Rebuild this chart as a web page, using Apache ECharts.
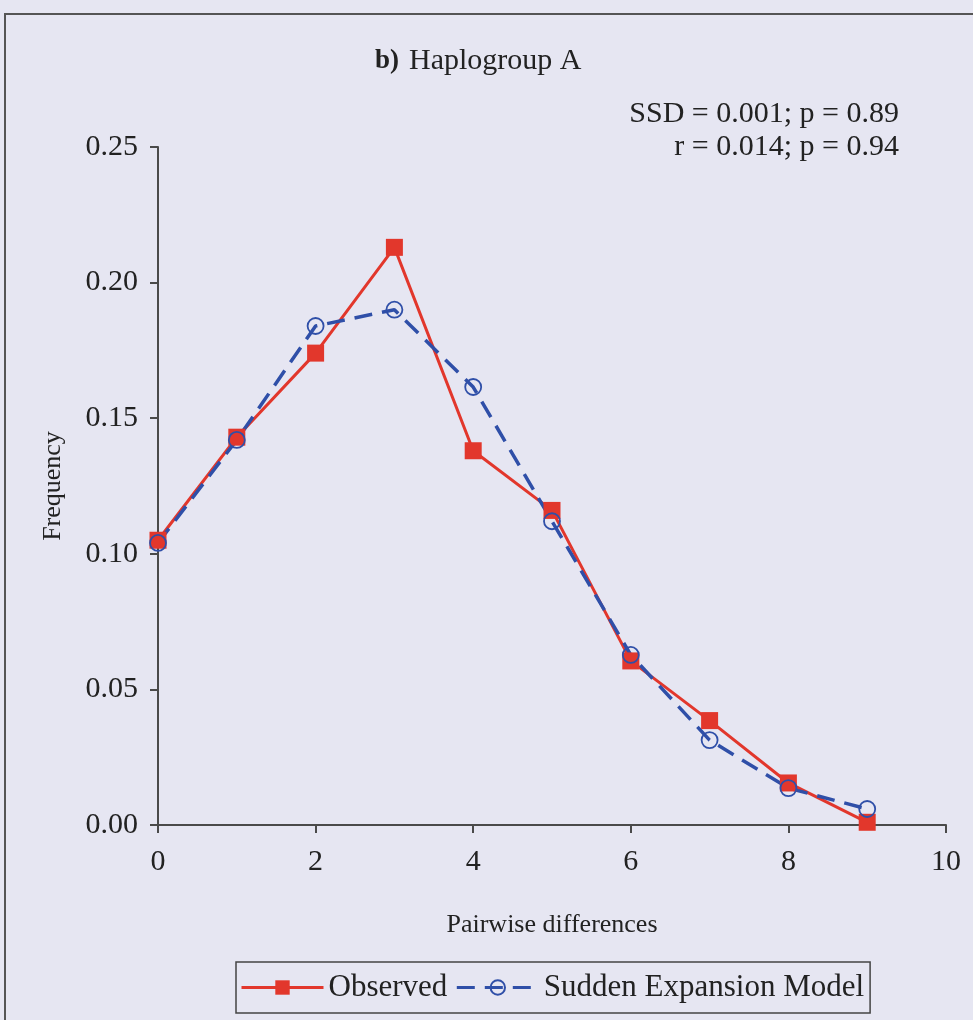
<!DOCTYPE html>
<html>
<head>
<meta charset="utf-8">
<script src="https://cdn.jsdelivr.net/npm/echarts@6/dist/echarts.min.js"></script>
<style>
  html, body { margin: 0; padding: 0; background: #e6e6f2; }
  #chart { width: 973px; height: 1020px; }
</style>
</head>
<body>
<div id="chart"></div>
<script>
// pairwise differences (x) and frequencies
const diffs = [0, 1, 2, 3, 4, 5, 6, 7, 8, 9];
const observed = [0.105, 0.143, 0.174, 0.213, 0.138, 0.116, 0.0605, 0.0385, 0.0155, 0.001];
const expansion = [0.104, 0.142, 0.184, 0.190, 0.1615, 0.112, 0.0627, 0.0313, 0.0136, 0.0059];
const yTicks = [0, 0.05, 0.10, 0.15, 0.20, 0.25];
const xTicks = [0, 2, 4, 6, 8, 10];
const statLines = ['SSD = 0.001; p = 0.89', 'r = 0.014; p = 0.94'];

const serif = '"Liberation Serif", "DejaVu Serif", serif';
const axisGrey = '#4a4a4a';
const red = '#e2372c';
const blue = '#2f4fa8';

let myChart = echarts.init(document.getElementById('chart'));

myChart.setOption({
  backgroundColor: '#e6e6f2',
  animation: false,
  title: {
    text: '{b|b)}  {n|Haplogroup A}',
    left: 370,
    top: 41,
    textStyle: {
      rich: {
        b: { fontFamily: serif, fontSize: 27, fontWeight: 'bold', color: '#222' },
        n: { fontFamily: serif, fontSize: 30, fontWeight: 'normal', color: '#222' }
      }
    }
  },
  graphic: [
    {
      // frame around the figure (left and top edges visible)
      type: 'rect',
      shape: { x: 5, y: 14, width: 1100, height: 1100 },
      style: { fill: 'none', stroke: '#555', lineWidth: 2 }
    },
    {
      type: 'text',
      x: 899,
      y: 114,
      style: { text: statLines[0], font: '30px ' + serif, fill: '#222', align: 'right', verticalAlign: 'middle' }
    },
    {
      type: 'text',
      x: 899,
      y: 147,
      style: { text: statLines[1], font: '30px ' + serif, fill: '#222', align: 'right', verticalAlign: 'middle' }
    }
  ],
  legend: {
    left: 236,
    top: 962,
    itemWidth: 82,
    itemHeight: 18,
    itemGap: 8,
    padding: [10, 6, 10, 4],
    borderColor: '#444',
    borderWidth: 1.5,
    lineStyle: { width: 3 },
    textStyle: { fontFamily: serif, fontSize: 31, color: '#222' },
    data: ['Observed', 'Sudden Expansion Model']
  },
  grid: {
    left: 158,
    right: 27,
    top: 147,
    bottom: 195
  },
  xAxis: {
    type: 'value',
    min: xTicks[0],
    max: xTicks[xTicks.length - 1],
    interval: 2,
    name: 'Pairwise differences',
    nameLocation: 'middle',
    nameGap: 87,
    nameTextStyle: { fontFamily: serif, fontSize: 26, color: '#222' },
    axisLine: { lineStyle: { color: axisGrey, width: 2 } },
    axisTick: { show: true, length: 8, lineStyle: { color: axisGrey, width: 2 } },
    axisLabel: { fontFamily: serif, fontSize: 30, color: '#222', margin: 22 },
    splitLine: { show: false }
  },
  yAxis: {
    type: 'value',
    min: yTicks[0],
    max: yTicks[yTicks.length - 1],
    interval: 0.05,
    name: 'Frequency',
    nameLocation: 'middle',
    nameGap: 92,
    nameTextStyle: { fontFamily: serif, fontSize: 26, color: '#222' },
    axisLine: { show: true, lineStyle: { color: axisGrey, width: 2 } },
    axisTick: { show: true, length: 8, lineStyle: { color: axisGrey, width: 2 } },
    axisLabel: {
      fontFamily: serif, fontSize: 30, color: '#222', margin: 20,
      formatter: v => v.toFixed(2)
    },
    splitLine: { show: false }
  },
  series: [
    {
      name: 'Observed',
      type: 'line',
      data: diffs.map((d, i) => [d, observed[i]]),
      symbol: 'rect',
      symbolSize: 17,
      lineStyle: { color: red, width: 3 },
      itemStyle: { color: red }
    },
    {
      name: 'Sudden Expansion Model',
      type: 'line',
      data: diffs.map((d, i) => [d, expansion[i]]),
      symbol: 'circle',
      symbolSize: 16,
      lineStyle: { color: blue, width: 3.5, type: [18, 10] },
      itemStyle: { color: 'rgba(0,0,0,0)', borderColor: blue, borderWidth: 1.8 }
    }
  ]
});
</script>
</body>
</html>
